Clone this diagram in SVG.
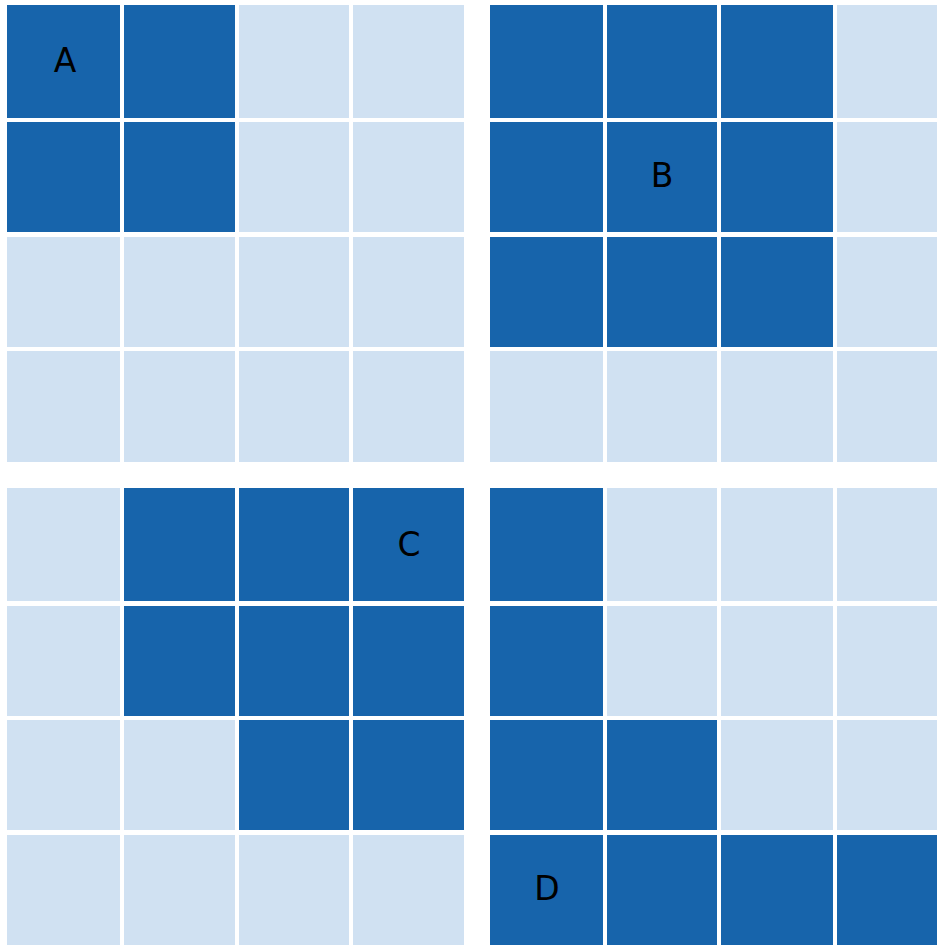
<svg xmlns="http://www.w3.org/2000/svg" width="937" height="947" viewBox="0 0 937 947">
<style>
.d{fill:#1764ab}
.l{fill:#d0e1f2}
text{font-family:"DejaVu Sans",sans-serif;font-size:33px;fill:#000;text-anchor:middle}
</style>
<rect width="937" height="947" fill="#fff"/>
<g id="gridA">
<rect class="d" x="7" y="5" width="113" height="113"/>
<rect class="d" x="124" y="5" width="111" height="113"/>
<rect class="l" x="239" y="5" width="110" height="113"/>
<rect class="l" x="353" y="5" width="111" height="113"/>
<rect class="d" x="7" y="122" width="113" height="110"/>
<rect class="d" x="124" y="122" width="111" height="110"/>
<rect class="l" x="239" y="122" width="110" height="110"/>
<rect class="l" x="353" y="122" width="111" height="110"/>
<rect class="l" x="7" y="237" width="113" height="110"/>
<rect class="l" x="124" y="237" width="111" height="110"/>
<rect class="l" x="239" y="237" width="110" height="110"/>
<rect class="l" x="353" y="237" width="111" height="110"/>
<rect class="l" x="7" y="351" width="113" height="111"/>
<rect class="l" x="124" y="351" width="111" height="111"/>
<rect class="l" x="239" y="351" width="110" height="111"/>
<rect class="l" x="353" y="351" width="111" height="111"/>
<text x="65" y="72">A</text>
</g>
<g id="gridB">
<rect class="d" x="490" y="5" width="113" height="113"/>
<rect class="d" x="607" y="5" width="110" height="113"/>
<rect class="d" x="721" y="5" width="112" height="113"/>
<rect class="l" x="837" y="5" width="100" height="113"/>
<rect class="d" x="490" y="122" width="113" height="110"/>
<rect class="d" x="607" y="122" width="110" height="110"/>
<rect class="d" x="721" y="122" width="112" height="110"/>
<rect class="l" x="837" y="122" width="100" height="110"/>
<rect class="d" x="490" y="237" width="113" height="110"/>
<rect class="d" x="607" y="237" width="110" height="110"/>
<rect class="d" x="721" y="237" width="112" height="110"/>
<rect class="l" x="837" y="237" width="100" height="110"/>
<rect class="l" x="490" y="351" width="113" height="111"/>
<rect class="l" x="607" y="351" width="110" height="111"/>
<rect class="l" x="721" y="351" width="112" height="111"/>
<rect class="l" x="837" y="351" width="100" height="111"/>
<text x="662" y="187">B</text>
</g>
<g id="gridC">
<rect class="l" x="7" y="488" width="113" height="113"/>
<rect class="d" x="124" y="488" width="111" height="113"/>
<rect class="d" x="239" y="488" width="110" height="113"/>
<rect class="d" x="353" y="488" width="111" height="113"/>
<rect class="l" x="7" y="606" width="113" height="110"/>
<rect class="d" x="124" y="606" width="111" height="110"/>
<rect class="d" x="239" y="606" width="110" height="110"/>
<rect class="d" x="353" y="606" width="111" height="110"/>
<rect class="l" x="7" y="720" width="113" height="110"/>
<rect class="l" x="124" y="720" width="111" height="110"/>
<rect class="d" x="239" y="720" width="110" height="110"/>
<rect class="d" x="353" y="720" width="111" height="110"/>
<rect class="l" x="7" y="835" width="113" height="110"/>
<rect class="l" x="124" y="835" width="111" height="110"/>
<rect class="l" x="239" y="835" width="110" height="110"/>
<rect class="l" x="353" y="835" width="111" height="110"/>
<text x="409" y="556">C</text>
</g>
<g id="gridD">
<rect class="d" x="490" y="488" width="113" height="113"/>
<rect class="l" x="607" y="488" width="110" height="113"/>
<rect class="l" x="721" y="488" width="112" height="113"/>
<rect class="l" x="837" y="488" width="100" height="113"/>
<rect class="d" x="490" y="606" width="113" height="110"/>
<rect class="l" x="607" y="606" width="110" height="110"/>
<rect class="l" x="721" y="606" width="112" height="110"/>
<rect class="l" x="837" y="606" width="100" height="110"/>
<rect class="d" x="490" y="720" width="113" height="110"/>
<rect class="d" x="607" y="720" width="110" height="110"/>
<rect class="l" x="721" y="720" width="112" height="110"/>
<rect class="l" x="837" y="720" width="100" height="110"/>
<rect class="d" x="490" y="835" width="113" height="110"/>
<rect class="d" x="607" y="835" width="110" height="110"/>
<rect class="d" x="721" y="835" width="112" height="110"/>
<rect class="d" x="837" y="835" width="100" height="110"/>
<text x="547" y="900">D</text>
</g>
<g id="connectors"/>
</svg>
